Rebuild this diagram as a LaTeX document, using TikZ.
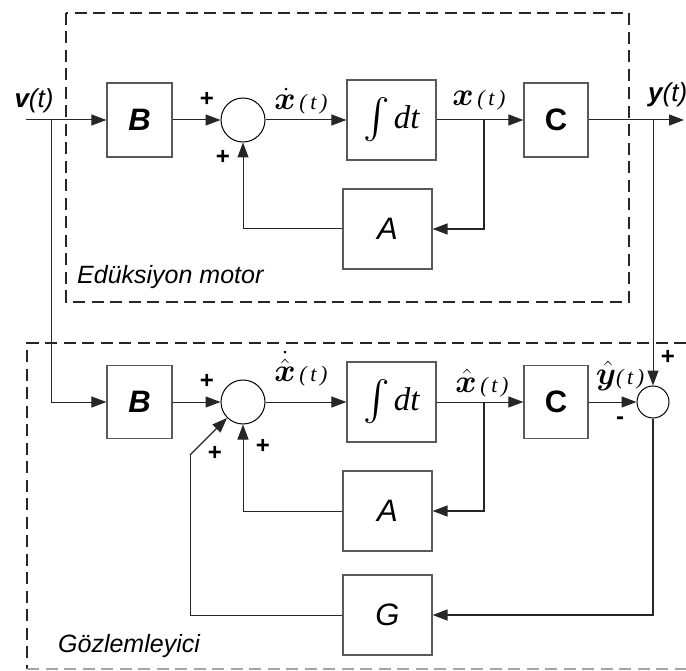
\documentclass[tikz,border=0pt]{standalone}
\usepackage{fontspec}
\setmainfont{Liberation Sans}
\newfontfamily\tms{Liberation Serif}
\usepackage{amsmath,bm,graphicx}
\usetikzlibrary{arrows.meta}
\newcommand{\fs}[1]{\fontsize{#1}{#1}\selectfont}
\newcommand{\tparen}{{\tms\itshape\fs{22}\,(\,t\,)}}
\newcommand{\intdt}{{\fs{27}\raisebox{-1pt}{\scalebox{1.6}{$\int$}}}\hspace{4pt}{\tms\itshape\fs{33}dt}}
\newcommand{\mx}[1]{\scalebox{1.3}{$#1$}}
\begin{document}
\begin{tikzpicture}[x=1pt,y=-1pt,
 blk/.style={draw=black!65, line width=1.2pt, fill=white, inner sep=0pt},
 sumc/.style={draw=black, line width=1pt, circle, minimum size=#1, inner sep=0pt},
 wire/.style={line width=1pt, draw=black!85},
 arr/.style={wire, -{Triangle[length=15pt,width=11pt]}},
 dbox/.style={line width=1.5pt, dash pattern=on 12pt off 6.5pt, draw=black!85},
 pl/.style={font=\fs{24}\bfseries, inner sep=0pt},
 lbl/.style={font=\fs{25}\itshape, inner sep=0pt, anchor=west},
 mlbl/.style={inner sep=0pt, font=\fs{29}},
]
\useasboundingbox (0,0) rectangle (686,671);

% dashed frames
\draw[dbox] (66,13) rectangle (629,302);
\draw[dbox] (686,343) -- (27,343) -- (27,669);
\draw[dbox, draw=black!35] (27,669) -- (686,669);
\node[lbl] (t1) at (77,277) {Edüksiyon motor};
\node[lbl] (t2) at (58,646) {Gözlemleyici};

% top row
\node[blk, minimum width=65pt, minimum height=74pt] (B1) at (139.5,120) {\fs{31}\bfseries\itshape B};
\node[sumc=44pt] (S1) at (243,120) {};
\node[blk, minimum width=89pt, minimum height=80pt] (I1) at (391.5,120) {\intdt};
\node[blk, minimum width=64pt, minimum height=74pt] (C1) at (556,120) {\fs{31}\bfseries C};
\node[blk, minimum width=89pt, minimum height=80pt] (A1) at (387.5,229) {\fs{31}\itshape A};

% bottom row
\node[blk, minimum width=65pt, minimum height=73pt] (B2) at (139.5,402) {\fs{31}\bfseries\itshape B};
\node[sumc=44pt] (S2) at (243,402) {};
\node[blk, minimum width=89pt, minimum height=80pt] (I2) at (391.5,402) {\intdt};
\node[blk, minimum width=64pt, minimum height=73pt] (C2) at (556,402) {\fs{31}\bfseries C};
\node[sumc=32pt] (S3) at (653,402) {};
\node[blk, minimum width=89pt, minimum height=80pt] (A2) at (387.5,511) {\fs{31}\itshape A};
\node[blk, minimum width=89pt, minimum height=80pt] (G) at (387.5,615) {\fs{31}\itshape G};

% coordinates
\coordinate (vin) at (26,120);
\coordinate (vb) at (51,120);
\coordinate (xb1) at (484,120);
\coordinate (xb2) at (484,402);
\coordinate (yb) at (653,120);
\coordinate (yout) at (684,120);
\coordinate (gc) at (190,455);

% top connectors
\draw[arr] (vin) -- (B1.west);
\draw[arr] (B1.east) -- (S1.west);
\draw[arr] (S1.east) -- (I1.west);
\draw[arr] (I1.east) -- (C1.west);
\draw[arr] (C1.east) -- (yout);
\draw[arr, line width=1.4pt] (xb1) |- (A1.east);
\draw[arr] (A1.west) -| (S1.south);

% bottom connectors
\draw[arr] (vb) |- (B2.west);
\draw[arr] (B2.east) -- (S2.west);
\draw[arr] (S2.east) -- (I2.west);
\draw[arr] (I2.east) -- (C2.west);
\draw[arr] (C2.east) -- (S3.west);
\draw[arr, line width=1.4pt] (xb2) |- (A2.east);
\draw[arr] (A2.west) -| (S2.south);
\draw[arr] (yb) -- (S3.north);
\draw[arr, line width=1.6pt] (S3.south) |- (G.east);
\draw[wire] (G.west) -| (gc);
\draw[arr, line width=1.4pt] (gc) -- (S2.225);

% signal labels
\node[inner sep=0pt] (lv) at (34,101) {\fs{26}{\bfseries\itshape v}{\itshape (t)}};
\node[inner sep=0pt, anchor=west] (ly) at (648,95) {\fs{26}{\bfseries\itshape y}{\itshape (t)}};
\node[mlbl] (lxd) at (301,101) {\mx{\dot{\bm{x}}}\tparen};
\node[mlbl] (lx) at (479,100) {\mx{\bm{x}}\tparen};
\node[mlbl] (lxhd) at (301,369) {\mx{\dot{\hat{\bm{x}}}}\tparen};
\node[mlbl] (lxh) at (482,383) {\mx{\hat{\bm{x}}}\tparen};
\node[mlbl] (lyh) at (620,376) {\mx{\hat{\bm{y}}}{\tms\itshape\fs{22}(\,t\,)}};

% signs
\node[pl] (p1) at (207,99) {+};
\node[pl] (p2) at (223,157) {+};
\node[pl] (p3) at (207,381) {+};
\node[pl] (p4) at (215,453) {+};
\node[pl] (p5) at (263,446) {+};
\node[pl] (p6) at (668,357) {+};
\node[pl] (p7) at (620,421) {-};
\end{tikzpicture}
\end{document}
